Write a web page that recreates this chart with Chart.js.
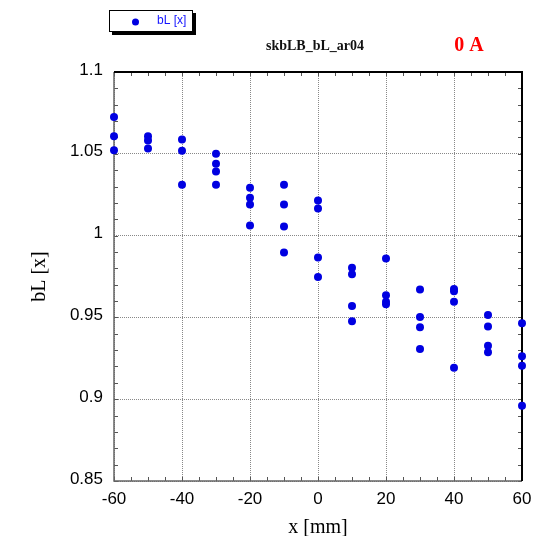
<!DOCTYPE html>
<html>
<head>
<meta charset="utf-8">
<script src="https://cdn.jsdelivr.net/npm/chart.js@4.4.0/dist/chart.umd.min.js"></script>
<style>
  html, body { margin: 0; padding: 0; background: #fff; }
  #wrap { width: 549px; height: 536px; position: relative; }
</style>
</head>
<body>
<div id="wrap"><canvas id="bLChart"></canvas></div>
<script>
const xPositions = [-60, -50, -40, -30, -20, -10, 0, 10, 20, 30, 40, 50, 60];
const bLValues = [
    [1.0725, 1.0607, 1.0521],
    [1.0607, 1.0582, 1.0533],
    [1.0588, 1.0519, 1.0311],
    [1.0500, 1.0439, 1.0392, 1.0311],
    [1.0293, 1.0231, 1.0190, 1.0062],
    [1.0311, 1.0190, 1.0056, 0.9897],
    [1.0215, 1.0166, 0.9866, 0.9747],
    [0.9803, 0.9764, 0.9570, 0.9476],
    [0.9860, 0.9635, 0.9595, 0.9580],
    [0.9670, 0.9503, 0.9440, 0.9307],
    [0.9674, 0.9660, 0.9595, 0.9193],
    [0.9515, 0.9445, 0.9326, 0.9287],
    [0.9464, 0.9262, 0.9205, 0.8960]
];
const xTicks = [-60, -40, -20, 0, 20, 40, 60];
const yTicks = [0.85, 0.9, 0.95, 1, 1.05, 1.1];

const pointColor = 'rgb(0, 0, 225)';

// construit la liste de points {x, y}
const points = [];
xPositions.forEach((x, i) => {
    bLValues[i].forEach(v => points.push({ x: x, y: v }));
});

// cadre avec petites graduations vers l'intérieur (sous les points)
const framePlugin = {
    id: 'frame',
    beforeDatasetsDraw(chart) {
        const { ctx, chartArea: a, scales } = chart;
        const sx = scales.x, sy = scales.y;
        ctx.save();

        // graduations mineures
        ctx.lineWidth = 1;
        ctx.strokeStyle = '#555';
        for (let v = -60; v <= 60; v += 5) {
            const px = Math.round(sx.getPixelForValue(v)) + 0.5;
            ctx.beginPath();
            ctx.moveTo(px, a.bottom); ctx.lineTo(px, a.bottom - 4);
            ctx.moveTo(px, a.top); ctx.lineTo(px, a.top + 4);
            ctx.stroke();
        }
        for (let k = 0; k <= 25; k++) {
            const py = Math.round(sy.getPixelForValue(0.85 + k * 0.01)) + 0.5;
            ctx.beginPath();
            ctx.moveTo(a.left, py); ctx.lineTo(a.left + 4, py);
            ctx.moveTo(a.right, py); ctx.lineTo(a.right - 4, py);
            ctx.stroke();
        }

        // bords : gauche/bas gris, haut/droite noirs
        ctx.lineWidth = 1.5;
        ctx.strokeStyle = '#666';
        ctx.beginPath();
        ctx.moveTo(a.left, a.top); ctx.lineTo(a.left, a.bottom); ctx.lineTo(a.right, a.bottom);
        ctx.stroke();
        ctx.lineWidth = 2;
        ctx.strokeStyle = '#000';
        ctx.beginPath();
        ctx.moveTo(a.left, a.top); ctx.lineTo(a.right, a.top); ctx.lineTo(a.right, a.bottom);
        ctx.stroke();
        ctx.restore();
    },
    afterDraw(chart) {
        const ctx = chart.ctx;
        ctx.save();

        // légende avec ombre
        ctx.fillStyle = '#000';
        ctx.fillRect(112, 13, 84, 22);
        ctx.fillStyle = '#fff';
        ctx.fillRect(109, 10, 84, 22);
        ctx.lineWidth = 1;
        ctx.strokeStyle = '#000';
        ctx.strokeRect(109.5, 10.5, 83, 21);
        ctx.fillStyle = pointColor;
        ctx.beginPath();
        ctx.arc(135.5, 22, 3.5, 0, Math.PI * 2);
        ctx.fill();
        ctx.fillStyle = 'rgb(20, 20, 255)';
        ctx.font = '12px "Liberation Sans", Arial, sans-serif';
        ctx.textBaseline = 'middle';
        ctx.textAlign = 'left';
        ctx.fillText('bL [x]', 157, 21);

        // titre et courant
        ctx.textAlign = 'center';
        ctx.textBaseline = 'alphabetic';
        ctx.fillStyle = '#111';
        ctx.font = 'bold 14px "Liberation Serif", "Times New Roman", serif';
        ctx.fillText('skbLB_bL_ar04', 315, 50);
        ctx.fillStyle = '#ff0000';
        ctx.font = 'bold 20px "Liberation Serif", "Times New Roman", serif';
        ctx.fillText('0 A', 469, 51);

        ctx.restore();
    }
};

const chartData = {
    datasets: [{
        label: 'bL [x]',
        data: points,
        backgroundColor: pointColor,
        borderColor: pointColor,
        pointRadius: 4,
        pointHoverRadius: 4,
        borderWidth: 0,
        clip: false
    }]
};

const tickFont = { family: '"Liberation Sans", Arial, sans-serif', size: 17 };
const titleFont = { family: '"Liberation Serif", "Times New Roman", serif', size: 20, lineHeight: 1.2 };

const chartOptions = {
    responsive: true,
    maintainAspectRatio: false,
    animation: false,
    layout: { padding: { left: 0, right: 27, top: 72, bottom: 0 } },
    plugins: {
        legend: { display: false },
        tooltip: { enabled: false }
    },
    scales: {
        x: {
            type: 'linear',
            min: -60,
            max: 60,
            afterBuildTicks: s => { s.ticks = xTicks.map(v => ({ value: v })); },
            afterFit: s => { s.height = 55; },
            grid: { color: '#888', drawTicks: false, lineWidth: 1 },
            border: { display: false, dash: [1, 1] },
            ticks: { color: '#000', font: tickFont, padding: 8, maxRotation: 0 },
            title: {
                display: true, text: 'x [mm]', color: '#000',
                font: { ...titleFont, lineHeight: 0.8 }, padding: { top: 0, bottom: 0 }
            }
        },
        y: {
            type: 'linear',
            min: 0.85,
            max: 1.1,
            afterBuildTicks: s => { s.ticks = yTicks.map(v => ({ value: v })); },
            afterFit: s => { s.width = 114; },
            grid: { color: '#888', drawTicks: false, lineWidth: 1 },
            border: { display: false, dash: [1, 1] },
            ticks: {
                color: '#000',
                font: tickFont,
                padding: 11,
                labelOffset: -2,
                callback: v => String(+v.toFixed(2))
            },
            title: { display: true, text: 'bL [x]', color: '#000', font: titleFont, padding: { top: 28, bottom: 0 } }
        }
    }
};

document.addEventListener('DOMContentLoaded', () => {
    const ctx = document.getElementById('bLChart');
    if (ctx) {
        new Chart(ctx, {
            type: 'scatter',
            data: chartData,
            options: chartOptions,
            plugins: [framePlugin]
        });
    }
});
</script>
</body>
</html>
